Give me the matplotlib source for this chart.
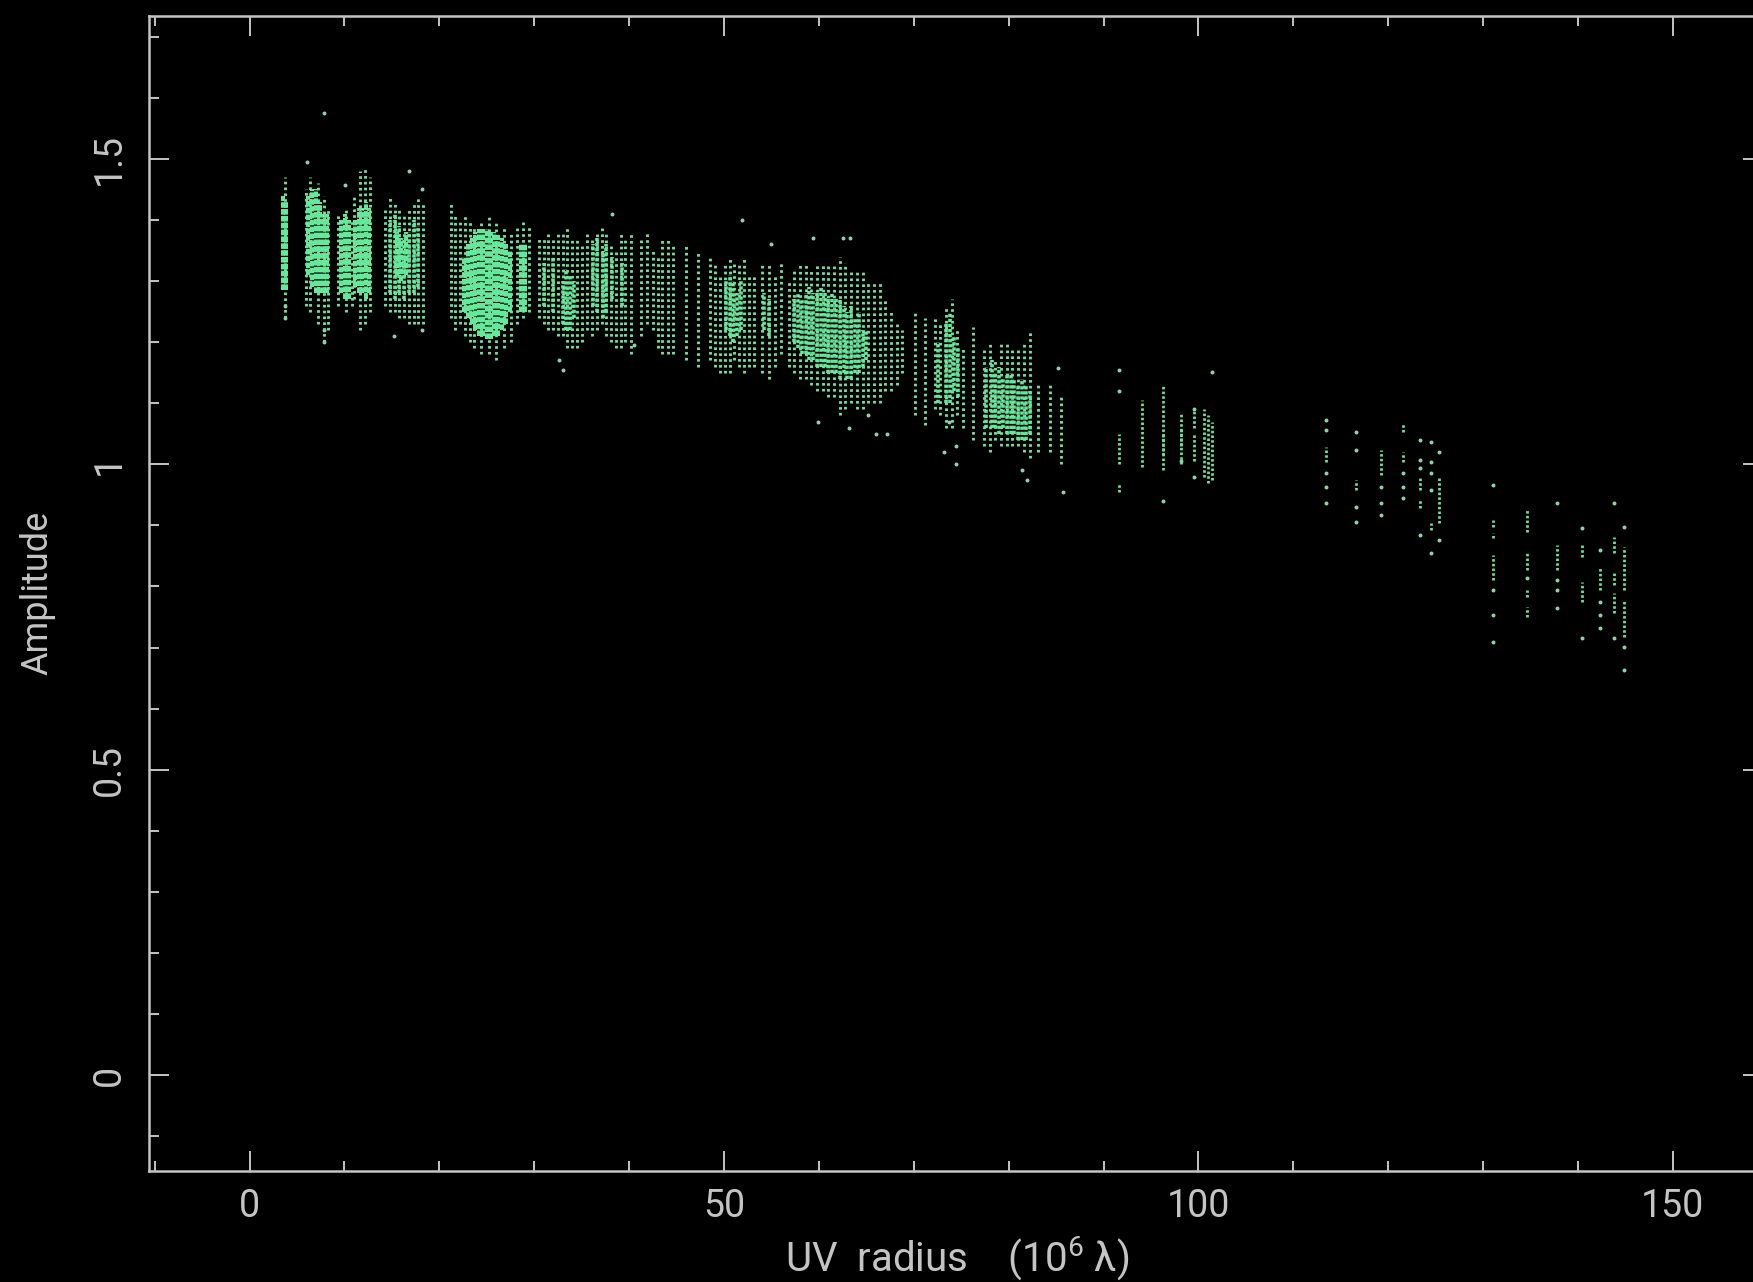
import matplotlib
matplotlib.use('Agg')
import matplotlib.pyplot as plt

# solid columns, where the points merge together
solid_x = [3.5, 3.8, 6.2, 6.6, 7.0, 7.4, 7.8, 8.2, 9.6, 10.1, 10.5, 11.1, 11.5, 11.9, 12.3, 12.6,
           15.5, 16.0, 16.5, 22.6, 23.0, 23.4, 23.8, 24.2, 24.6, 25.0, 25.4, 25.8, 26.2, 26.6, 27.0, 27.4,
           28.6, 29.0]
solid_lo = [1.285, 1.285, 1.31, 1.29, 1.28, 1.28, 1.28, 1.28, 1.28, 1.27, 1.27, 1.29, 1.28, 1.28, 1.27, 1.28,
            1.31, 1.30, 1.31, 1.25, 1.24, 1.23, 1.22, 1.21, 1.21, 1.205, 1.205, 1.21, 1.21, 1.22, 1.23, 1.25,
            1.25, 1.25]
solid_hi = [1.44, 1.43, 1.44, 1.45, 1.45, 1.43, 1.41, 1.41, 1.40, 1.41, 1.40, 1.40, 1.42, 1.42, 1.43, 1.42,
            1.38, 1.37, 1.38, 1.34, 1.36, 1.37, 1.38, 1.385, 1.385, 1.385, 1.38, 1.38, 1.375, 1.37, 1.36, 1.35,
            1.36, 1.36]

# closely packed dots, mottled parts of the cloud
packed_x = [14.8, 15.3, 15.8, 16.3, 16.8, 17.3, 17.8, 31.0, 32.0, 33.0, 33.4, 33.8, 34.2, 36.2, 36.6, 37.2, 37.6, 38.2,
            39.2, 50.2, 50.6, 51.0, 51.4, 51.8, 54.2, 54.7, 57.4, 57.8, 58.2, 58.6, 59.0, 59.4, 59.8, 60.2, 60.6, 61.0,
            61.4, 61.8, 62.2, 62.6, 63.0, 63.4, 63.8, 64.2, 64.6, 65.0, 72.6, 73.4, 73.8, 74.2, 74.7, 77.6, 78.2,
            78.6, 79.0, 79.4, 79.8, 80.2, 80.6, 81.0, 81.4, 81.8, 82.2]
packed_lo = [1.28, 1.27, 1.28, 1.27, 1.28, 1.28, 1.29, 1.26, 1.25, 1.23, 1.22, 1.22, 1.24, 1.26, 1.25, 1.24, 1.25, 1.27,
             1.26, 1.22, 1.21, 1.20, 1.21, 1.22, 1.22, 1.21, 1.20, 1.19, 1.18, 1.18, 1.17, 1.17, 1.16, 1.16, 1.16, 1.15,
             1.15, 1.15, 1.14, 1.15, 1.14, 1.14, 1.15, 1.15, 1.16, 1.17, 1.10, 1.10, 1.10, 1.12, 1.11, 1.06, 1.06,
             1.06, 1.05, 1.06, 1.05, 1.05, 1.05, 1.04, 1.04, 1.04, 1.05]
packed_hi = [1.40, 1.41, 1.39, 1.37, 1.38, 1.40, 1.39, 1.33, 1.34, 1.30, 1.32, 1.31, 1.30, 1.36, 1.37, 1.35, 1.36, 1.34,
             1.33, 1.30, 1.31, 1.30, 1.28, 1.30, 1.28, 1.27, 1.27, 1.28, 1.27, 1.28, 1.29, 1.28, 1.28, 1.29, 1.28, 1.27,
             1.28, 1.27, 1.27, 1.26, 1.25, 1.26, 1.24, 1.25, 1.22, 1.22, 1.20, 1.23, 1.25, 1.21, 1.19, 1.16, 1.17,
             1.15, 1.16, 1.14, 1.15, 1.15, 1.14, 1.13, 1.14, 1.13, 1.12]

# looser columns of dots
dot_x = [3.7, 5.9, 6.4, 7.2, 7.8, 8.3, 9.3, 10.2, 10.8, 11.0, 11.6, 12.2, 12.7,
         14.3, 14.8, 15.3, 15.8, 16.3, 16.8, 17.3, 17.8, 18.3,
         21.2, 21.7, 22.2, 22.7, 23.2, 23.7, 24.4, 25.2, 26.0, 26.8, 27.6, 28.2, 28.8, 29.4,
         30.5, 31.0, 31.5, 32.0, 32.5, 33.0, 33.5, 34.0, 34.5, 35.0,
         35.6, 36.1, 36.6, 37.1, 37.6, 38.1, 38.6, 39.1, 39.6, 40.2,
         41.2, 41.9, 42.5, 43.0, 43.5, 44.1, 44.6, 46.0, 47.3, 48.5, 49.0,
         49.6, 50.1, 50.6, 51.1, 51.6, 52.1, 52.6, 53.2, 54.0, 54.7, 55.4, 56.0,
         56.8, 57.4, 58.0, 58.6, 59.2, 59.8, 60.4, 61.0, 61.6, 62.2, 62.8, 63.4, 64.0, 64.6, 65.2, 65.8, 66.4,
         67.0, 67.6, 68.2, 68.8,
         70.1, 71.2, 72.2, 72.8, 73.4, 74.0, 74.6, 75.2, 76.2, 77.4, 78.0, 78.6, 79.2, 79.8, 80.4, 81.0, 81.6,
         82.3, 83.1, 84.4, 85.5]
dot_lo = [1.24, 1.26, 1.25, 1.23, 1.20, 1.22, 1.26, 1.25, 1.26, 1.27, 1.22, 1.23, 1.25,
          1.26, 1.25, 1.25, 1.24, 1.24, 1.23, 1.23, 1.23, 1.23,
          1.24, 1.22, 1.23, 1.21, 1.20, 1.19, 1.18, 1.18, 1.17, 1.19, 1.20, 1.23, 1.24, 1.25,
          1.24, 1.23, 1.22, 1.22, 1.21, 1.21, 1.19, 1.19, 1.19, 1.20,
          1.22, 1.21, 1.22, 1.23, 1.21, 1.20, 1.19, 1.19, 1.20, 1.18,
          1.21, 1.23, 1.22, 1.19, 1.18, 1.18, 1.18, 1.17, 1.16, 1.17, 1.16,
          1.15, 1.15, 1.15, 1.17, 1.16, 1.15, 1.16, 1.16, 1.15, 1.14, 1.16, 1.18,
          1.16, 1.15, 1.14, 1.14, 1.13, 1.12, 1.12, 1.11, 1.11, 1.08, 1.09, 1.10, 1.09, 1.09, 1.10, 1.10, 1.10,
          1.12, 1.12, 1.13, 1.15,
          1.08, 1.065, 1.09, 1.08, 1.06, 1.06, 1.08, 1.06, 1.04, 1.03, 1.02, 1.04, 1.03, 1.03, 1.03, 1.03, 1.02,
          1.01, 1.02, 1.02, 1.00]
dot_hi = [1.47, 1.45, 1.47, 1.46, 1.44, 1.42, 1.41, 1.42, 1.40, 1.44, 1.48, 1.485, 1.47,
          1.42, 1.44, 1.43, 1.42, 1.41, 1.42, 1.43, 1.44, 1.43,
          1.43, 1.41, 1.40, 1.41, 1.40, 1.39, 1.40, 1.41, 1.40, 1.39, 1.38, 1.39, 1.40, 1.39,
          1.37, 1.37, 1.38, 1.37, 1.38, 1.38, 1.39, 1.37, 1.37, 1.36,
          1.38, 1.37, 1.38, 1.39, 1.38, 1.36, 1.35, 1.38, 1.37, 1.38,
          1.37, 1.38, 1.35, 1.34, 1.37, 1.37, 1.36, 1.36, 1.35, 1.34, 1.33,
          1.31, 1.33, 1.34, 1.33, 1.33, 1.34, 1.31, 1.31, 1.33, 1.33, 1.31, 1.33,
          1.30, 1.32, 1.33, 1.33, 1.32, 1.33, 1.33, 1.33, 1.33, 1.34, 1.33, 1.32, 1.32, 1.32, 1.30, 1.30, 1.30,
          1.27, 1.25, 1.23, 1.22,
          1.25, 1.24, 1.24, 1.23, 1.26, 1.27, 1.22, 1.19, 1.225, 1.19, 1.20, 1.17, 1.20, 1.20, 1.19, 1.19, 1.20,
          1.22, 1.13, 1.13, 1.11]

# short runs of dots in the sparse tracks on the long baselines
run_x = [91.6, 91.6, 94.0, 96.3, 96.3, 98.2, 98.2, 99.5, 99.5, 100.6, 101.0, 101.4,
         113.4, 116.6, 119.2, 121.6, 121.6, 123.3, 123.3, 124.5, 125.4,
         131.0, 131.0, 131.0, 134.6, 134.6, 134.6, 134.6, 137.8, 140.4, 140.4, 142.3, 143.8, 143.8, 143.8,
         144.9, 144.9]
run_lo = [1.00, 0.955, 0.996, 1.015, 0.99, 1.0, 1.03, 1.06, 1.005, 0.98, 0.97, 0.975,
          1.004, 0.958, 0.982, 1.053, 1.004, 0.958, 0.928, 0.892, 0.904,
          0.897, 0.879, 0.811, 0.889, 0.827, 0.783, 0.75, 0.827, 0.848, 0.775, 0.794, 0.855, 0.802, 0.757,
          0.794, 0.717]
run_hi = [1.05, 0.97, 1.105, 1.13, 1.05, 1.085, 1.06, 1.09, 1.05, 1.09, 1.08, 1.07,
          1.028, 0.974, 1.023, 1.068, 1.02, 0.979, 0.942, 0.904, 0.979,
          0.909, 0.888, 0.851, 0.925, 0.855, 0.794, 0.766, 0.868, 0.871, 0.807, 0.83, 0.881, 0.822, 0.789,
          0.865, 0.778]

# points that stand alone
single_x = [7.85, 6.05, 7.85, 7.85, 10.1, 3.7, 3.7, 15.2, 16.8, 18.2, 18.2, 38.2, 33.0, 40.5, 32.6, 51.9,
            59.4, 62.5, 63.3, 65.2, 66.0, 67.2, 63.2, 59.9, 55.0, 73.7, 74.4, 73.2, 74.4, 81.4, 81.9, 85.2, 85.7,
            91.6, 91.6, 96.3, 98.2, 99.5, 99.5, 101.4, 113.4, 113.4, 113.4, 113.4, 113.4,
            116.6, 116.6, 116.6, 116.6, 119.2, 119.2, 119.2, 121.6, 121.6, 121.6, 123.3, 123.3, 123.3, 123.3, 124.5,
            124.5, 124.5, 124.5, 124.5, 125.4, 125.4,
            131.0, 131.0, 131.0, 131.0, 134.6, 137.8, 137.8, 137.8, 137.8, 140.4, 140.4, 142.3, 142.3, 142.3, 142.3,
            143.8, 143.8, 144.9, 144.9, 144.9]
single_y = [1.575, 1.495, 1.22, 1.20, 1.457, 1.26, 1.24, 1.21, 1.48, 1.22, 1.45, 1.41, 1.155, 1.195, 1.17, 1.40,
            1.37, 1.37, 1.37, 1.08, 1.05, 1.05, 1.06, 1.07, 1.36, 1.07, 1.03, 1.02, 1.0, 0.99, 0.974, 1.158, 0.955,
            1.155, 1.12, 0.94, 1.005, 1.09, 0.98, 1.151, 1.073, 1.056, 0.986, 0.963, 0.937,
            1.053, 1.023, 0.93, 0.906, 0.963, 0.937, 0.917, 0.986, 0.963, 0.945, 1.04, 1.007, 0.994, 0.884, 1.037,
            1.004, 0.986, 0.958, 0.855, 1.02, 0.876,
            0.966, 0.794, 0.753, 0.709, 0.814, 0.937, 0.811, 0.794, 0.765, 0.896, 0.716, 0.86, 0.775, 0.753, 0.732,
            0.937, 0.716, 0.897, 0.701, 0.663]

xticks = [0, 50, 100, 150]
xtick_labels = ['0', '50', '100', '150']
yticks = [0, 0.5, 1, 1.5]
ytick_labels = ['0', '0.5', '1', '1.5']
xminor = [-10, 10, 20, 30, 40, 60, 70, 80, 90, 110, 120, 130, 140]
yminor = [-0.1, 0.1, 0.2, 0.3, 0.4, 0.6, 0.7, 0.8, 0.9, 1.1, 1.2, 1.3, 1.4, 1.6, 1.7]

W, H = 1753, 1282
GREEN = '#66e89a'
GREY = '#c4c4c4'

plt.rcParams['font.family'] = ['Roboto', 'DejaVu Sans']
plt.rcParams['mathtext.default'] = 'regular'

fig = plt.figure(figsize=(W / 100, H / 100), dpi=100, facecolor='black')
# the right frame line falls just outside the picture
ax = fig.add_axes([149 / W, 1 - 1171 / H, (1763 - 149) / W, (1171 - 16) / H], facecolor='black')
ax.set_xlim(-10.6, 159.5)
ax.set_ylim(-0.157, 1.734)

ax.vlines(dot_x, dot_lo, dot_hi, colors='#78dc9c', linewidth=2.1, linestyles=[(0, (0.9, 1.1))])
ax.vlines(run_x, run_lo, run_hi, colors='#6fe09a', linewidth=2.0, linestyles=[(0, (0.9, 0.8))])
ax.vlines(packed_x, packed_lo, packed_hi, colors=GREEN, linewidth=2.6, linestyles=[(0, (0.9, 0.5))])
ax.vlines(solid_x, solid_lo, solid_hi, colors=GREEN, linewidth=2.9, linestyles=[(0, (1.4, 0.3))])
ax.scatter(single_x, single_y, s=8, color='#8fd4a8', linewidths=0)

ax.set_xticks(xticks)
ax.set_xticklabels(xtick_labels)
ax.set_yticks(yticks)
ax.set_yticklabels(ytick_labels, rotation=90, va='center')
ax.set_xticks(xminor, minor=True)
ax.set_yticks(yminor, minor=True)
ax.tick_params(which='major', direction='in', length=14.4, width=1.4, color=GREY, top=True, right=True)
ax.tick_params(which='minor', direction='in', length=7.2, width=1.4, color=GREY, top=True, right=True)
ax.tick_params(axis='x', which='major', labelsize=27, labelcolor=GREY, pad=12)
ax.tick_params(axis='y', which='major', labelsize=27, labelcolor=GREY, pad=15)
for side in ax.spines.values():
    side.set_color(GREY)
    side.set_linewidth(1.8)

fig.text(37 / W, 1 - 593 / H, 'Amplitude', rotation=90, color=GREY, fontsize=26, ha='center', va='center')
fig.text(957 / W, 1 - 1259 / H, 'UV  radius    (10$^{6}$ λ)', color=GREY, fontsize=29, ha='center', va='center')

fig.savefig('out.png', dpi=100, facecolor='black')
plt.close(fig)
